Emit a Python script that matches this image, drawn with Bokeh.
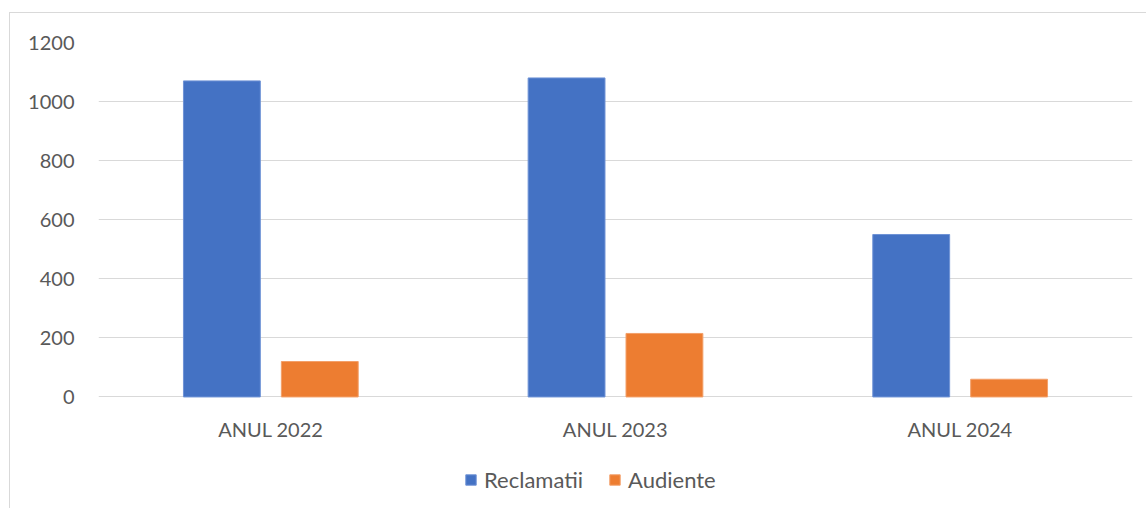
from bokeh.plotting import figure
from bokeh.models import ColumnDataSource, FactorRange, Legend, LegendItem, Range1d, FixedTicker
from bokeh.transform import dodge
from bokeh.embed import file_html
from bokeh.resources import INLINE

categories = ["ANUL 2022", "ANUL 2023", "ANUL 2024"]
reclamatii = [1070, 1080, 550]
audiente = [120, 215, 60]
y_ticks = [0, 200, 400, 600, 800, 1000, 1200]

source = ColumnDataSource(dict(cat=categories, rec=reclamatii, aud=audiente))

FONT = "Lato"
TXT = "#595959"
GRID = "#d9d9d9"

# frame runs down to the bottom of the chart; the category axis sits at y = 0
p = figure(
    x_range=FactorRange(*categories),
    y_range=Range1d(-381, 1200),
    width=1137, height=496,
    output_backend="svg", toolbar_location=None,
    min_border_left=88, min_border_right=15, min_border_top=29, min_border_bottom=0,
)
p.styles = {"border-left": "1px solid #d9d9d9", "border-top": "1px solid #d9d9d9",
            "margin-left": "9px", "margin-top": "12px"}

r1 = p.vbar(x=dodge("cat", -0.142, range=p.x_range), top="rec", bottom=0, width=0.223, source=source,
            fill_color="#4472C4", line_color="#6f93d6", line_width=1)
r2 = p.vbar(x=dodge("cat", 0.142, range=p.x_range), top="aud", bottom=0, width=0.223, source=source,
            fill_color="#ED7D31", line_color="#f3a06a", line_width=1)

p.outline_line_color = None
p.xgrid.grid_line_color = None
p.ygrid.grid_line_color = GRID
p.ygrid.grid_line_width = 1
p.yaxis.ticker = FixedTicker(ticks=y_ticks)
p.ygrid.ticker = FixedTicker(ticks=y_ticks)
p.xaxis.fixed_location = 0

for ax in (p.xaxis, p.yaxis):
    ax.axis_line_color = None
    ax.major_tick_line_color = None
    ax.minor_tick_line_color = None
    ax.major_label_text_font = FONT
    ax.major_label_text_font_size = "20px"
    ax.major_label_text_color = TXT
p.yaxis.major_label_standoff = 18
p.xaxis.major_label_standoff = 14

legend = Legend(items=[LegendItem(label="Reclamatii", renderers=[r1]),
                       LegendItem(label="Audiente", renderers=[r2])],
                orientation="horizontal", location=(366, 16),
                label_text_font=FONT, label_text_font_size="22px", label_text_color=TXT,
                glyph_width=13, glyph_height=13, label_standoff=7, spacing=25, label_height=20,
                padding=0, margin=0, border_line_color=None, background_fill_alpha=0)
p.add_layout(legend, "center")

open("out.html", "w").write(file_html(p, INLINE))
